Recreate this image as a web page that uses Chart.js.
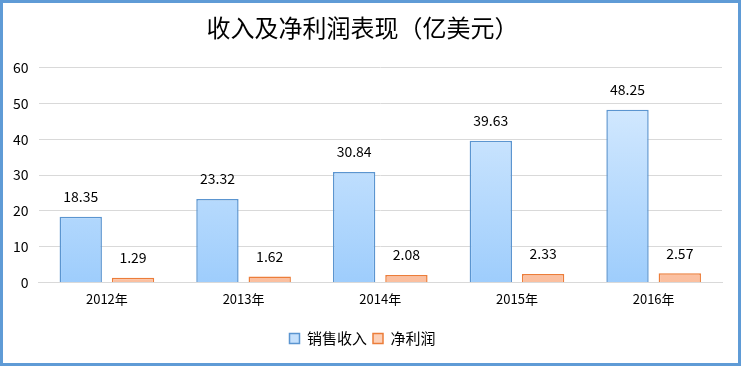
<!DOCTYPE html>
<html>
<head>
<meta charset="utf-8">
<style>
  body { margin: 0; background: #fff; }
  #wrap { width: 741px; height: 366px; box-sizing: border-box; border: 3px solid #5f9bd6; background: #fff; }
</style>
</head>
<body>
<div id="wrap">
  <canvas id="myChart" width="735" height="360"></canvas>
</div>

<script src="https://cdn.jsdelivr.net/npm/chart.js"></script>
<script>
const years = ['2012年', '2013年', '2014年', '2015年', '2016年'];
const revenue = [18.35, 23.32, 30.84, 39.63, 48.25];
const netProfit = [1.29, 1.62, 2.08, 2.33, 2.57];
const yTicks = [0, 10, 20, 30, 40, 50, 60];

const FONT = "'Noto Sans CJK SC', 'Liberation Sans', sans-serif";
const ctx = document.getElementById('myChart');

// vertical gradient fill per bar series
function grad(top, bottom) {
  return (c) => {
    const area = c.chart.chartArea;
    if (!area) return bottom;
    const g = c.chart.ctx.createLinearGradient(0, area.top, 0, area.bottom);
    g.addColorStop(0, top);
    g.addColorStop(1, bottom);
    return g;
  };
}

// value labels above bars
const valueLabels = {
  id: 'valueLabels',
  afterDatasetsDraw(chart) {
    const c = chart.ctx;
    c.save();
    c.font = '14px ' + FONT;
    c.fillStyle = '#000';
    c.textAlign = 'center';
    c.textBaseline = 'bottom';
    chart.data.datasets.forEach((ds, i) => {
      chart.getDatasetMeta(i).data.forEach((bar, j) => {
        c.fillText(ds.data[j].toFixed(2), bar.x, bar.y - 13);
      });
    });
    c.restore();
  }
};

new Chart(ctx, {
  type: 'bar',
  data: {
    labels: years,
    datasets: [{
      label: '销售收入',
      data: revenue,
      backgroundColor: grad('#ddeeff', '#9ecdfc'),
      borderColor: '#5b95d0',
      borderWidth: 1.5,
      categoryPercentage: 0.765,
      barPercentage: 0.81
    }, {
      label: '净利润',
      data: netProfit,
      backgroundColor: grad('#fde4d6', '#fbbf9f'),
      borderColor: '#ec7d3a',
      borderWidth: 1.5,
      categoryPercentage: 0.765,
      barPercentage: 0.81
    }]
  },
  options: {
    responsive: false,
    animation: false,
    layout: { padding: { left: 0, right: 16, top: 0, bottom: 7 } },
    plugins: {
      title: {
        display: true,
        text: '收入及净利润表现（亿美元）',
        font: { family: FONT, size: 24, weight: 'normal' },
        color: '#000',
        padding: { top: 10, bottom: 26 }
      },
      legend: {
        position: 'bottom',
        labels: {
          font: { family: FONT, size: 15 },
          color: '#000',
          boxWidth: 10,
          boxHeight: 10,
          padding: 6,
          generateLabels(chart) {
            const fills = ['#c5e0fc', '#fcd0b8'];
            return chart.data.datasets.map((ds, i) => ({
              text: ds.label,
              fillStyle: fills[i],
              strokeStyle: ds.borderColor,
              lineWidth: 1.5,
              datasetIndex: i
            }));
          }
        }
      },
      tooltip: { enabled: false }
    },
    scales: {
      x: {
        grid: { display: false },
        border: { color: '#d9d9d9' },
        ticks: { font: { family: FONT, size: 13 }, color: '#000', padding: 1 },
        afterFit(scale) { scale.height += 17; }
      },
      y: {
        min: yTicks[0],
        max: yTicks[yTicks.length - 1],
        afterBuildTicks(axis) { axis.ticks = yTicks.map(v => ({ value: v })); },
        grid: { color: '#d9d9d9', drawTicks: false },
        border: { display: false },
        ticks: { font: { family: FONT, size: 14 }, color: '#000', padding: 10 }
      }
    }
  },
  plugins: [valueLabels]
});
</script>
</body>
</html>
